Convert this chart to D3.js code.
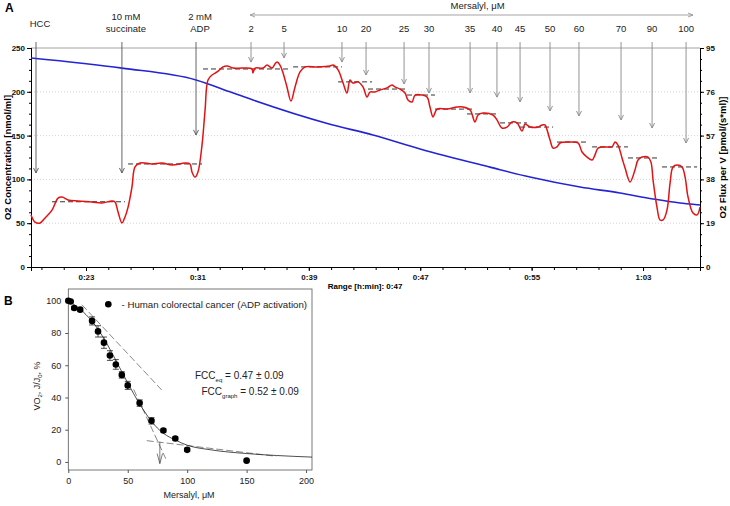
<!DOCTYPE html>
<html><head><meta charset="utf-8">
<script src="https://cdn.jsdelivr.net/npm/d3@7"></script>
<style>body{margin:0;background:#fff} svg{display:block;font-family:"Liberation Sans",Arial,sans-serif}</style>
</head><body><svg id="c" width="730" height="506"></svg>
<script>
// ---------- Panel A data ----------
const timeTicks = [23, 31, 39, 47, 55, 63];
const concTicks = [0, 50, 100, 150, 200, 250];
const fluxTicks = [0, 19, 38, 57, 76, 95];
const rangeLabel = "Range [h:min]: 0:47";

const blueTime = [19.05, 25.58, 30.90, 33.34, 34.99, 40.52, 43.61, 46.99, 52.01, 54.88, 58.48, 61.35, 63.72, 65.66, 66.95, 67.09];
const blueConc = [238.6, 227, 213.5, 200, 190.6, 163, 150.7, 134.7, 114, 102.7, 91.3, 84.5, 77.6, 73, 71.0, 70.8];

const redTime = [19.05,19.34,19.70,20.06,20.56,20.99,21.28,21.71,22.43,23.43,24.15,24.87,25.08,25.30,25.58,25.80,26.02,26.30,26.52,26.88,27.74,28.46,29.18,30.11,30.47,30.61,30.83,31.04,31.33,31.55,31.76,32.05,32.41,32.84,33.13,33.56,34.27,34.92,34.99,35.14,35.71,36.00,36.36,36.57,36.72,36.93,37.15,37.43,37.72,38.01,38.37,38.73,39.59,40.52,40.74,41.10,41.46,41.74,41.96,42.17,42.53,42.89,43.18,43.39,43.75,44.11,44.62,44.97,45.19,45.55,45.91,46.12,46.41,46.63,47.13,47.49,47.70,47.92,48.21,48.92,49.64,50.07,50.58,50.93,51.15,51.51,52.23,52.51,52.87,53.23,53.59,53.95,54.31,54.53,54.89,55.46,55.75,55.96,56.11,56.32,56.54,56.82,57.04,57.76,58.33,58.62,58.98,59.34,59.55,59.77,60.27,60.77,60.99,61.20,61.49,61.71,62.07,62.42,62.64,62.93,63.36,63.57,63.72,64.00,64.22,64.44,64.72,64.94,65.15,65.44,65.80,66.02,66.23,66.59,66.88,67.09];
const redFlux = [22.6,19.5,19.1,21.3,24.7,29.9,30.4,29.1,28.6,28.2,27.8,28.6,28.2,23.9,19.1,21.7,26.0,34.7,43.4,45.1,44.7,45.1,44.2,45.1,44.7,41.2,39.0,41.2,52.9,68.1,81.1,83.3,84.6,86.8,87.2,86.3,86.3,85.9,84.2,86.3,86.3,87.6,86.3,88.1,88.9,87.6,84.2,78.1,72.0,78.1,84.6,86.8,86.8,87.2,87.6,85.5,79.8,75.5,81.1,79.8,80.3,78.1,73.7,75.9,75.9,76.8,77.7,79.0,78.1,77.2,75.5,72.4,71.6,74.6,74.6,73.7,69.4,65.1,68.5,68.5,69.4,69.4,68.1,62.9,65.9,66.8,65.9,63.8,60.3,60.7,62.9,62.5,59.0,62.0,60.7,60.7,61.6,61.6,59.4,55.1,51.6,52.1,53.8,54.2,53.8,49.9,47.7,46.4,48.6,51.6,52.1,52.1,54.2,52.9,47.3,42.9,36.9,42.1,46.4,47.7,47.7,45.5,37.7,26.0,20.4,20.4,24.7,36.4,43.4,44.2,43.4,39.0,30.4,23.4,22.6,26.0];

const stepStart = [20.56,26.02,31.40,37.87,41.10,43.25,46.05,48.06,50.36,52.73,54.17,56.82,59.34,61.92,64.36];
const stepEnd   = [25.80,31.33,37.51,41.38,43.54,46.05,48.06,50.93,52.59,54.67,56.54,58.98,61.92,64.07,66.88];
const stepFlux  = [28.3,44.7,85.9,86.8,80.3,77.2,74.6,68.5,66.4,62.5,60.7,54.2,52.1,47.3,43.4];

const eventLines = [["HCC"], ["10 mM", "succinate"], ["2 mM", "ADP"]];
const eventTime = [19.41, 25.58, 30.90];
const eventTip = [40.8, 40.8, 57.3];

const mersalylLabel = "Mersalyl, μM";
const mersalylSpan = [34.78, 66.59];
const mersalylDose = ["2","5","10","20","25","30","35","40","45","50","60","70","90","100"];
const mersalylTime = [34.85,37.22,41.38,43.11,45.84,47.63,50.58,52.51,54.17,56.32,58.40,61.42,63.65,66.09];
const mersalylTip = [88.9,90.7,88.9,83.3,79.4,75.5,75.5,73.7,71.6,67.7,65.5,63.8,60.3,53.8];

// ---------- Panel B data ----------
const doseB = [0,2,5,10,20,25,30,35,40,45,50,60,70,80,90,100,150];
const vo2B  = [100,99.5,95.5,94.5,87.5,81,74,66,60.5,54,47.5,36.5,25.5,19.5,14.5,7.5,0.8];
const errB  = [0,0.5,1,1,2.5,3.5,3.5,3,3,2,2.5,2,2,1,1,1,0.5];
const fitDose = [0,5,10,15,20,25,30,35,40,45,50,55,60,65,70,75,80,90,100,120,150,175,205];
const fitVo2  = [100,97.5,94.8,91.3,87.3,82.3,76.5,70,63,56,49,42.3,36,30.3,25.2,21,17.8,13.6,10.4,7.5,5.2,4,3];
const tangentLines = [[[11.5,97.5],[78.5,44.7]], [[55,45],[82,2]], [[66,13.2],[175,3.5]]];
const fccArrowDose = 77, fccArrowFrom = 12.5, fccArrowTo = -1;
const xTicksB = [0,50,100,150,200];
const yTicksB = [0,20,40,60,80,100];
const legendText = "- Human colorectal cancer (ADP activation)";

// ---------- drawing ----------
const svg = d3.select("#c");
const FONT = '"Liberation Sans",Arial,sans-serif';

const x = d3.scaleLinear().domain([19.05, 67.09]).range([31, 700]);
const yC = d3.scaleLinear().domain([0, 250]).range([267, 48]);
const yF = d3.scaleLinear().domain([0, 95]).range([267, 48]);
const fmtTime = m => Math.floor(m/60) + ":" + String(Math.round(m%60)).padStart(2,"0");

svg.append("text").attr("x",5).attr("y",12).attr("font-weight","bold").attr("font-size",12).text("A");
svg.append("text").attr("x",4).attr("y",305).attr("font-weight","bold").attr("font-size",12).text("B");

const gA = svg.append("g");
// gridlines
gA.append("g").selectAll("line").data(concTicks.filter(d=>d>0 && d<250)).join("line")
  .attr("x1",x.range()[0]).attr("x2",x.range()[1]).attr("y1",d=>yC(d)).attr("y2",d=>yC(d))
  .attr("stroke","#c8c8c8").attr("stroke-width",0.8).attr("stroke-dasharray","1,2");
gA.append("line").attr("x1",x.range()[0]).attr("x2",x.range()[1]).attr("y1",yC(250)).attr("y2",yC(250))
  .attr("stroke","#8a8a8a").attr("stroke-width",0.8);

// axes
const minorC = d3.range(0, 250.01, 12.5);
gA.append("g").attr("transform",`translate(${x.range()[0]},0)`)
  .call(d3.axisLeft(yC).tickValues(minorC).tickSize(2).tickFormat(""));
gA.append("g").attr("transform",`translate(${x.range()[0]},0)`)
  .call(d3.axisLeft(yC).tickValues(concTicks).tickSize(4).tickPadding(2));
const fluxMinor = d3.range(0, 95.01, 4.75);
gA.append("g").attr("transform",`translate(${x.range()[1]},0)`).call(d3.axisRight(yF).tickValues(fluxMinor).tickSize(2).tickFormat(""));
gA.append("g").attr("transform",`translate(${x.range()[1]},0)`)
  .call(d3.axisRight(yF).tickValues(fluxTicks).tickSize(4).tickPadding(2));
const timeMinor = d3.range(23-1.6*2, 67.09, 1.6).filter(t=>t>=19.05);
gA.append("g").attr("transform",`translate(0,${yC(0)})`).call(d3.axisBottom(x).tickValues(timeMinor).tickSize(3).tickFormat(""));
gA.append("g").attr("transform",`translate(0,${yC(0)})`)
  .call(d3.axisBottom(x).tickValues(timeTicks).tickSize(4).tickPadding(3).tickFormat(fmtTime));
gA.selectAll(".domain").attr("stroke","#000").attr("stroke-width",1);
gA.selectAll(".tick line").attr("stroke","#000");
gA.selectAll(".tick text").attr("font-family",FONT).attr("font-weight","bold").attr("font-size",8).attr("fill","#111");

gA.append("text").attr("transform",`translate(11,${(yC(0)+yC(250))/2}) rotate(-90)`)
  .attr("text-anchor","middle").attr("font-weight","bold").attr("font-size",9.5).text("O2 Concentration [nmol/ml]");
gA.append("text").attr("transform",`translate(726,${(yC(0)+yC(250))/2}) rotate(-90)`)
  .attr("text-anchor","middle").attr("font-weight","bold").attr("font-size",9.5).text("O2 Flux per V [pmol/(s*ml)]");
gA.append("text").attr("x",365).attr("y",289).attr("text-anchor","middle").attr("font-weight","bold").attr("font-size",8).text(rangeLabel);

// step lines
gA.append("g").selectAll("line").data(stepFlux).join("line")
  .attr("x1",(d,i)=>x(stepStart[i])).attr("x2",(d,i)=>x(stepEnd[i]))
  .attr("y1",d=>yF(d)).attr("y2",d=>yF(d))
  .attr("stroke","#333").attr("stroke-width",1).attr("stroke-dasharray","5,3");

// blue line
gA.append("path").datum(blueTime.map((t,i)=>[t,blueConc[i]]))
  .attr("d", d3.line().x(d=>x(d[0])).y(d=>yC(d[1])).curve(d3.curveMonotoneX))
  .attr("fill","none").attr("stroke","#2424d4").attr("stroke-width",1.6);
// red line
gA.append("path").datum(redTime.map((t,i)=>[t,redFlux[i]]))
  .attr("d", d3.line().x(d=>x(d[0])).y(d=>yF(d[1])).curve(d3.curveCatmullRom.alpha(0.5)))
  .attr("fill","none").attr("stroke","#e41212").attr("stroke-width",1.5);

// arrows
function downArrow(g, px, y1, y2, color) {
  g.append("line").attr("x1",px).attr("x2",px).attr("y1",y1).attr("y2",y2).attr("stroke",color).attr("stroke-width",0.9);
  g.append("path").attr("d",`M${px-2.5},${y2-5}L${px},${y2}L${px+2.5},${y2-5}`).attr("fill","none").attr("stroke",color).attr("stroke-width",0.9);
}
const arrowTop = 42;
eventTime.forEach((t,i)=>{
  downArrow(gA, x(t), arrowTop, yF(eventTip[i]), "#555");
  const lines = eventLines[i];
  lines.forEach((s,j)=>{
    const base = lines.length===1 ? 27 : 20 + j*12;
    gA.append("text").attr("x",x(t)+4).attr("y",base).attr("text-anchor","middle").attr("font-size",9.5).attr("fill","#222").text(s);
  });
});
mersalylTime.forEach((t,i)=>{
  downArrow(gA, x(t), arrowTop, yF(mersalylTip[i]), "#888");
  gA.append("text").attr("x",x(t)).attr("y",32).attr("text-anchor","middle").attr("font-size",9.5).attr("fill","#222").text(mersalylDose[i]);
});
// mersalyl span arrow
const mx1 = x(mersalylSpan[0]), mx2 = x(mersalylSpan[1]);
gA.append("line").attr("x1",mx1).attr("x2",mx2).attr("y1",15).attr("y2",15).attr("stroke","#999").attr("stroke-width",0.9);
gA.append("path").attr("d",`M${mx1+5},${13}L${mx1},15L${mx1+5},17M${mx2-5},13L${mx2},15L${mx2-5},17`).attr("fill","none").attr("stroke","#999").attr("stroke-width",0.9);
gA.append("text").attr("x",(mx1+mx2)/2+6).attr("y",9).attr("text-anchor","middle").attr("font-size",9.5).attr("fill","#222").text(mersalylLabel);

// ---------- Panel B ----------
const xb = d3.scaleLinear().domain([0,205]).range([68.3,312]);
const yb = d3.scaleLinear().domain([-5,107.3]).range([470,289]);
const gB = svg.append("g").attr("font-family",FONT);
gB.append("rect").attr("x",xb(0)).attr("y",yb(107.3)).attr("width",xb(205)-xb(0)).attr("height",yb(-5)-yb(107.3))
  .attr("fill","none").attr("stroke","#555").attr("stroke-width",0.8);
gB.append("g").attr("transform",`translate(0,${yb(-5)})`).call(d3.axisBottom(xb).tickValues(xTicksB).tickSize(3).tickPadding(5));
gB.append("g").attr("transform",`translate(${xb(0)},0)`).call(d3.axisLeft(yb).tickValues(yTicksB).tickSize(3).tickPadding(4));
gB.selectAll(".domain").remove();
gB.selectAll(".tick line").attr("stroke","#555");
gB.selectAll(".tick text").attr("font-family",FONT).attr("font-size",9).attr("fill","#222");

// tangents
gB.append("g").selectAll("path").data(tangentLines).join("path")
  .attr("d",d=>d3.line().x(p=>xb(p[0])).y(p=>yb(p[1]))(d))
  .attr("fill","none").attr("stroke","#555").attr("stroke-width",0.7).attr("stroke-dasharray","7,3");
// fit curve
gB.append("path").datum(fitDose.map((d,i)=>[d,fitVo2[i]]))
  .attr("d", d3.line().x(d=>xb(d[0])).y(d=>yb(d[1])).curve(d3.curveMonotoneX))
  .attr("fill","none").attr("stroke","#222").attr("stroke-width",0.8);
// arrow
const ax = xb(fccArrowDose), ay1 = yb(fccArrowFrom), ay2 = yb(fccArrowTo);
gB.append("line").attr("x1",ax).attr("x2",ax).attr("y1",ay1).attr("y2",ay2).attr("stroke","#444").attr("stroke-width",0.7);
gB.append("path").attr("d",`M${ax-2.7},${ay2-10}L${ax},${ay2}L${ax+2.7},${ay2-10}`).attr("fill","none").attr("stroke","#444").attr("stroke-width",0.7);
// error bars
const eb = gB.append("g").attr("stroke","#222").attr("stroke-width",0.8);
doseB.forEach((d,i)=>{
  if (!errB[i]) return;
  const cx = xb(d);
  eb.append("line").attr("x1",cx).attr("x2",cx).attr("y1",yb(vo2B[i]+errB[i])).attr("y2",yb(vo2B[i]-errB[i]));
  [1,-1].forEach(s=>eb.append("line").attr("x1",cx-3).attr("x2",cx+3).attr("y1",yb(vo2B[i]+s*errB[i])).attr("y2",yb(vo2B[i]+s*errB[i])));
});
gB.append("g").selectAll("circle").data(doseB).join("circle")
  .attr("cx",d=>xb(d)).attr("cy",(d,i)=>yb(vo2B[i])).attr("r",3.3).attr("fill","#000");

// legend
gB.append("circle").attr("cx",108.3).attr("cy",304.3).attr("r",3.3).attr("fill","#000");
gB.append("text").attr("x",121.5).attr("y",308).attr("font-size",9.7).attr("fill","#222").text(legendText);

// FCC text
function fcc(xp, yp, sub, rest) {
  const t = gB.append("text").attr("x",xp).attr("y",yp).attr("font-size",10).attr("fill","#222");
  t.append("tspan").text("FCC");
  t.append("tspan").attr("dy",2.5).attr("font-size",6).text(sub);
  t.append("tspan").attr("dy",-2.5).text(rest);
}
fcc(195, 379, "eq", " = 0.47 ± 0.09");
fcc(201.5, 395, "graph", " = 0.52 ± 0.09");

// axis titles
gB.append("text").attr("x",189).attr("y",498).attr("text-anchor","middle").attr("font-size",9).attr("fill","#222").text("Mersalyl, μM");
const yt = gB.append("text").attr("transform",`translate(40,386) rotate(-90)`).attr("text-anchor","middle").attr("font-size",9).attr("fill","#222");
yt.append("tspan").text("VO");
yt.append("tspan").attr("dy",2).attr("font-size",6).text("2");
yt.append("tspan").attr("dy",-2).text(", J/J");
yt.append("tspan").attr("dy",2).attr("font-size",6).text("0");
yt.append("tspan").attr("dy",-2).text(", %");
</script></body></html>
